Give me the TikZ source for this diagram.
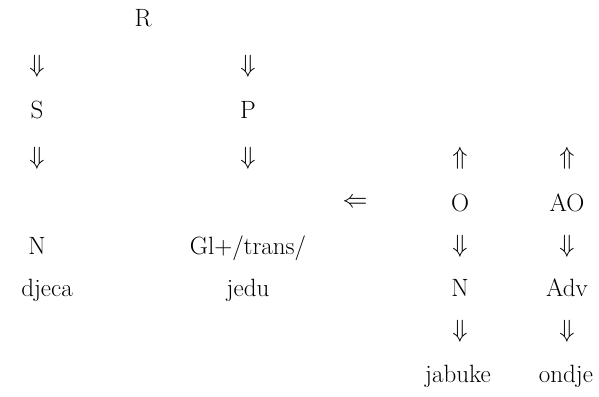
\documentclass[tikz,border=0pt]{standalone}
\begin{document}
\begin{tikzpicture}[x=1pt,y=-1pt,
  lbl/.style={inner sep=0pt,anchor=base,font=\fontsize{25}{29}\selectfont},
  arr/.style={inner sep=0pt,anchor=center,font=\fontsize{25}{29}\selectfont}]
\useasboundingbox (0,0) rectangle (599,396);
% column 1
\node[lbl] (R) at (143,27) {R};
\node[arr] (a1) at (37,66) {$\Downarrow$};
\node[lbl] (S) at (37,118) {S};
\node[arr] (a2) at (37,158) {$\Downarrow$};
\node[lbl] (N1) at (37,254) {N};
\node[lbl] (djeca) at (47,296) {djeca};
% column 2
\node[arr] (b1) at (248,66) {$\Downarrow$};
\node[lbl] (P) at (248,118) {P};
\node[arr] (b2) at (248,158) {$\Downarrow$};
\node[lbl] (Gl) at (248,254) {Gl+/trans/};
\node[lbl] (jedu) at (248,296) {jedu};
% left arrow
\node[arr] (la) at (355,203) {$\Leftarrow$};
% column 3
\node[arr] (c1) at (460,158) {$\Uparrow$};
\node[lbl] (O) at (460,211) {O};
\node[arr] (c2) at (460,246) {$\Downarrow$};
\node[lbl] (N2) at (460,296) {N};
\node[arr] (c3) at (460,331) {$\Downarrow$};
\node[lbl] (jabuke) at (458,382) {jabuke};
% column 4
\node[arr] (d1) at (567,158) {$\Uparrow$};
\node[lbl] (AO) at (567,211) {AO};
\node[arr] (d2) at (567,246) {$\Downarrow$};
\node[lbl] (Adv) at (567,296) {Adv};
\node[arr] (d3) at (567,331) {$\Downarrow$};
\node[lbl] (ondje) at (566,382) {ondje};
\end{tikzpicture}
\end{document}
